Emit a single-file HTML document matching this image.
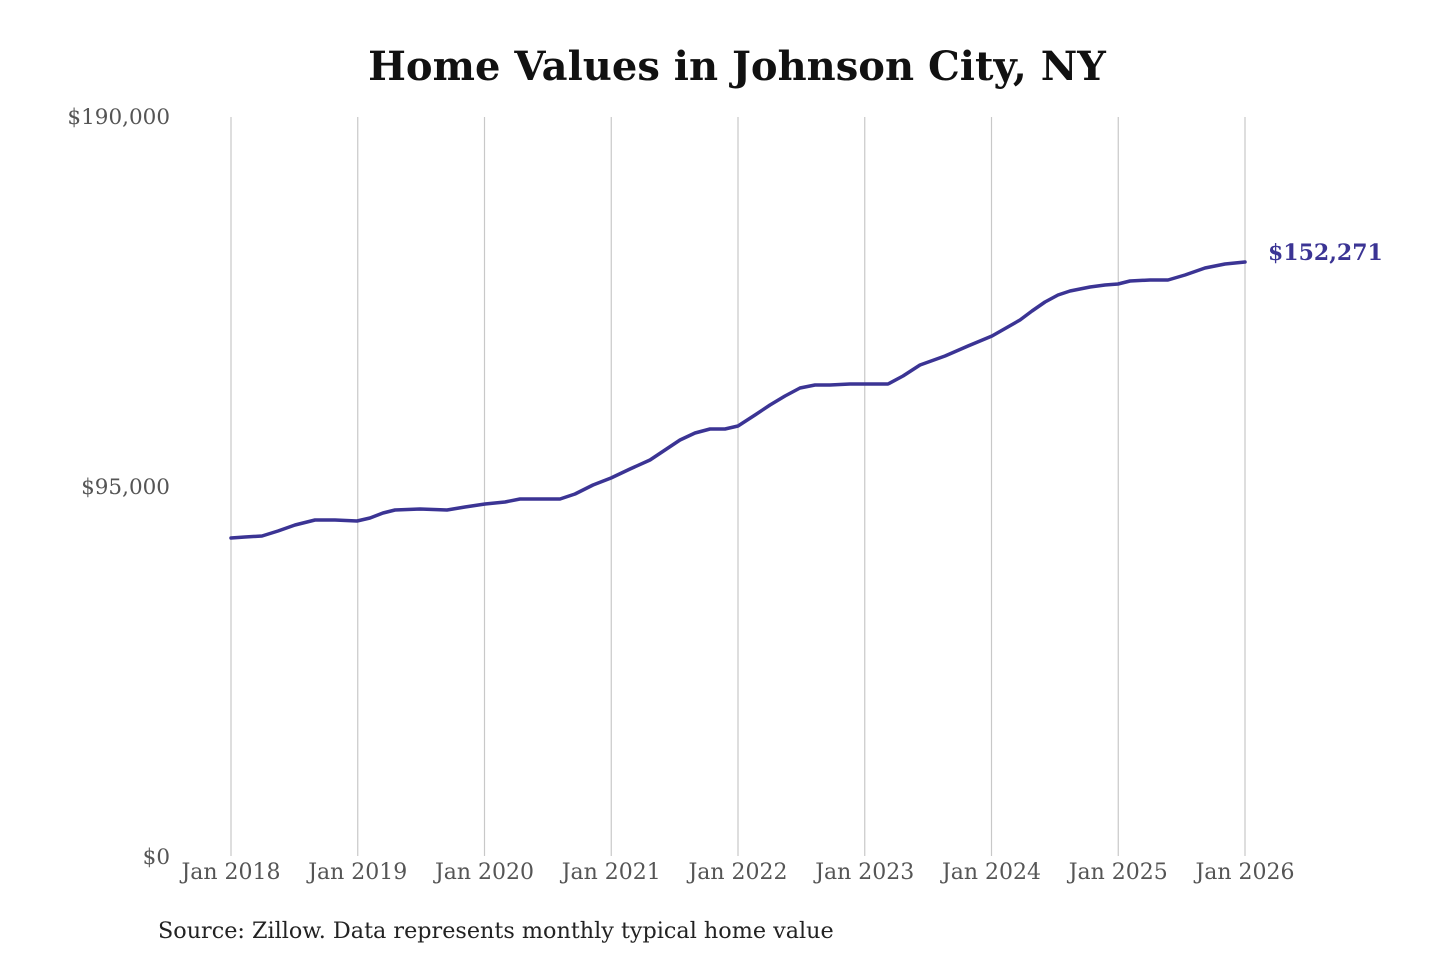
<!DOCTYPE html>
<html><head><meta charset="utf-8"><style>
html,body{margin:0;padding:0;background:#fff;width:1440px;height:960px;overflow:hidden}
</style></head><body>
<svg width="1440" height="960" xmlns="http://www.w3.org/2000/svg" font-family="'DejaVu Serif','Liberation Serif',serif">
<text x="737" y="80" text-anchor="middle" font-size="40" font-weight="bold" fill="#111">Home Values in Johnson City, NY</text>
<g stroke="#c8c8c8" stroke-width="1.2">
<line x1="231" y1="117" x2="231" y2="856"/>
<line x1="357.75" y1="117" x2="357.75" y2="856"/>
<line x1="484.5" y1="117" x2="484.5" y2="856"/>
<line x1="611.25" y1="117" x2="611.25" y2="856"/>
<line x1="738" y1="117" x2="738" y2="856"/>
<line x1="864.75" y1="117" x2="864.75" y2="856"/>
<line x1="991.5" y1="117" x2="991.5" y2="856"/>
<line x1="1118.25" y1="117" x2="1118.25" y2="856"/>
<line x1="1245" y1="117" x2="1245" y2="856"/>
</g>
<g font-size="21.5" fill="#555" text-anchor="end">
<text x="170" y="124">$190,000</text>
<text x="170" y="494">$95,000</text>
<text x="170" y="864">$0</text>
</g>
<g font-size="22" fill="#555" text-anchor="middle">
<text x="231" y="879">Jan 2018</text>
<text x="357.75" y="879">Jan 2019</text>
<text x="484.5" y="879">Jan 2020</text>
<text x="611.25" y="879">Jan 2021</text>
<text x="738" y="879">Jan 2022</text>
<text x="864.75" y="879">Jan 2023</text>
<text x="991.5" y="879">Jan 2024</text>
<text x="1118.25" y="879">Jan 2025</text>
<text x="1245" y="879">Jan 2026</text>
</g>
<polyline fill="none" stroke="#3b3494" stroke-width="3.5" stroke-linejoin="round" stroke-linecap="round"
points="231,538 245,537 262,536 278,531 295,525 315,520 335,520 357,521 370,518 383,513 395,510 420,509 447,510 465,507 485,504 505,502 520,499 540,499 560,499 575,494 593,485 611,478 630,469 650,460 665,450 680,440 695,433 710,429 725,429 738,426 755,415 770,405 785,396 800,388 815,385 830,385 850,384 865,384 888,384 903,376 920,365 945,356 968,346 992,336 1020,320 1032,311 1045,302 1058,295 1070,291 1090,287 1105,285 1118,284 1130,281 1150,280 1168,280 1185,275 1205,268 1225,264 1245,262"/>
<text x="1268" y="260" font-size="22" font-weight="bold" fill="#3b3494">$152,271</text>
<text x="158" y="938" font-size="22.3" fill="#222">Source: Zillow. Data represents monthly typical home value</text>
</svg>
</body></html>
